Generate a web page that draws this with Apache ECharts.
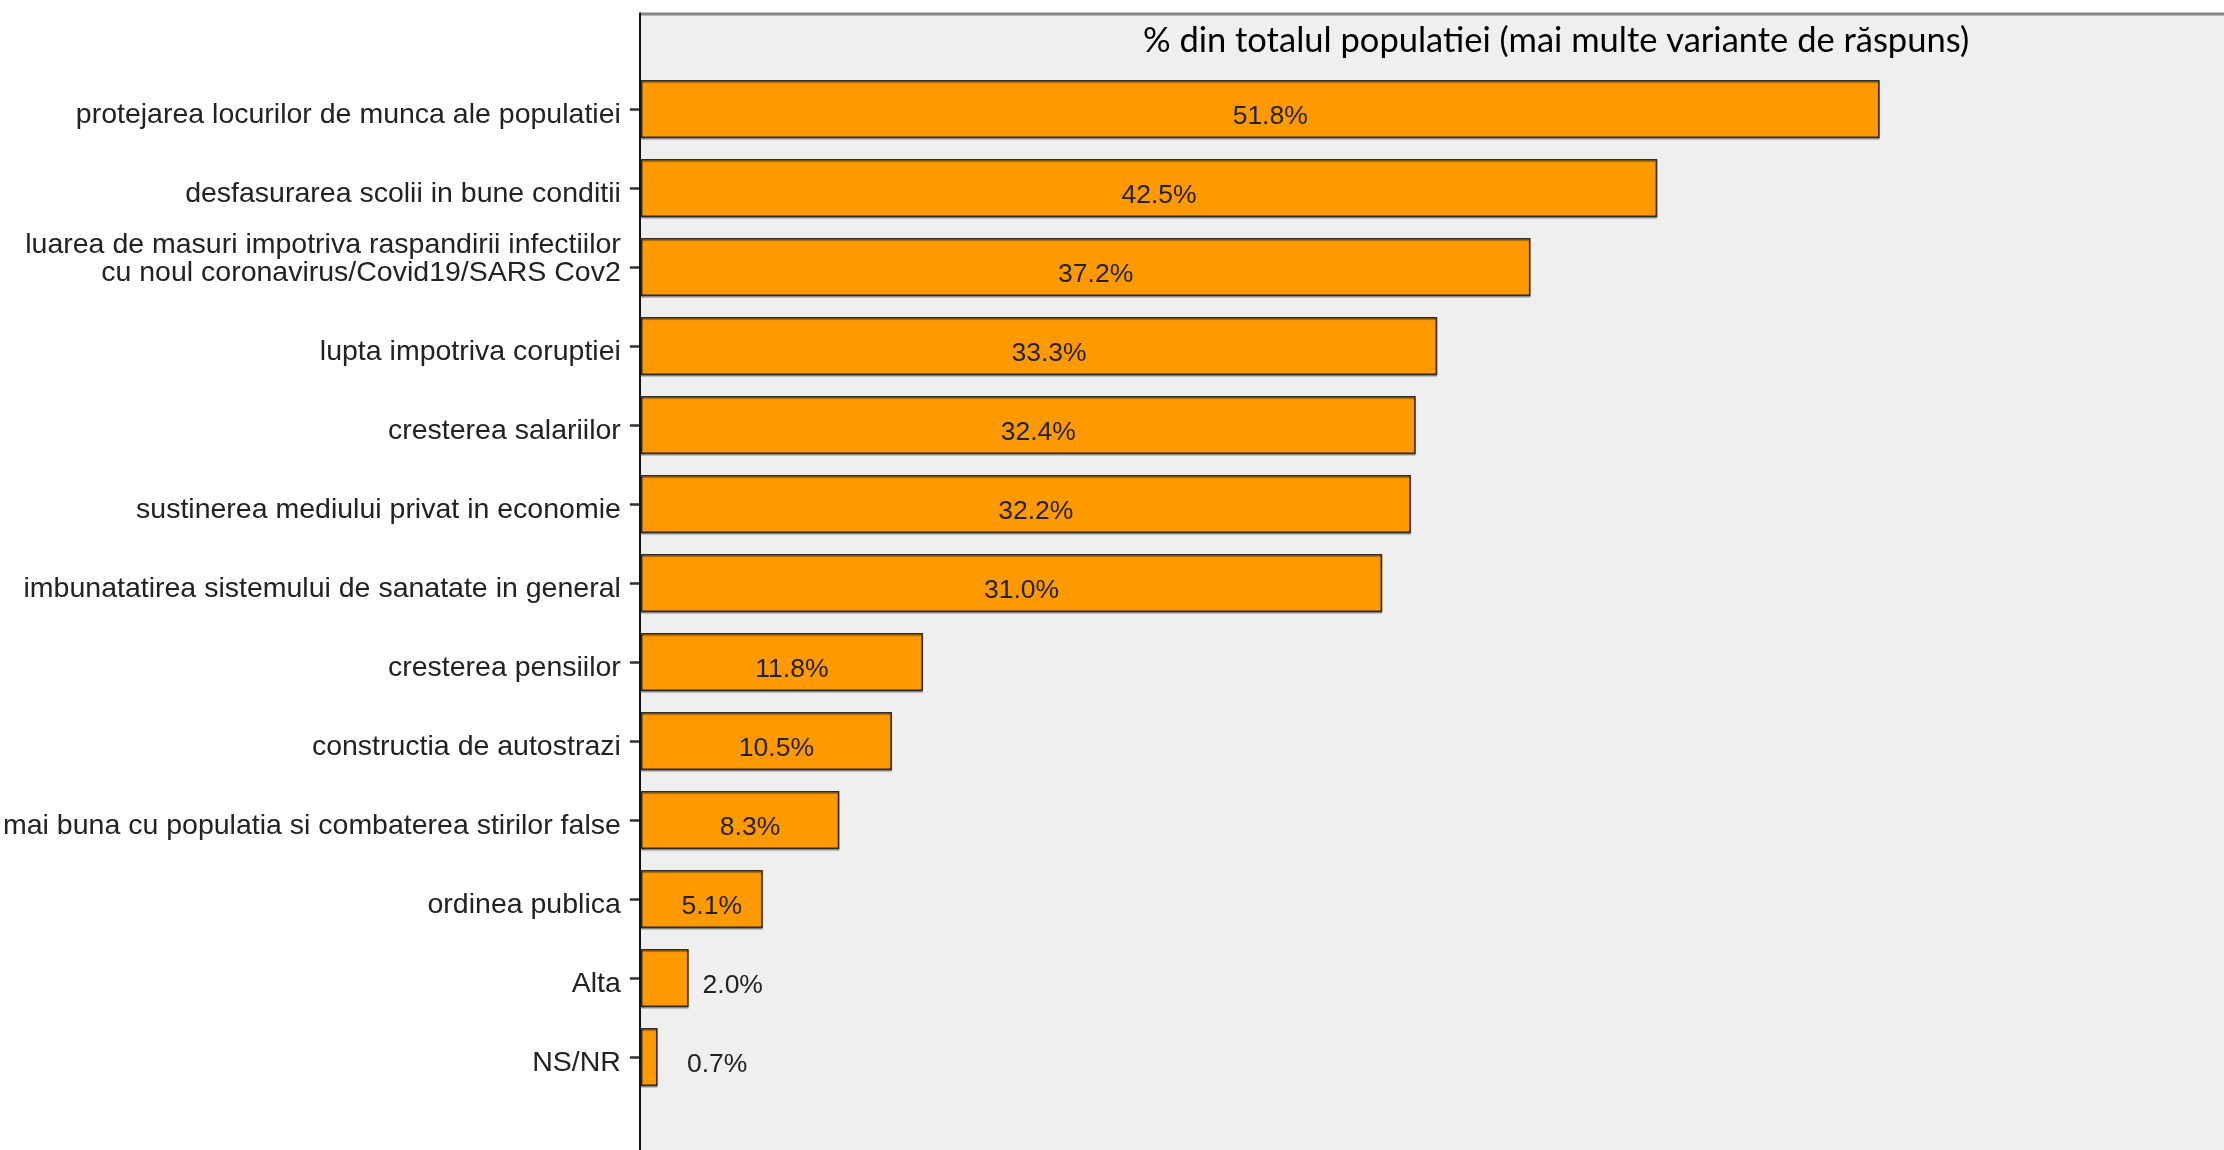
<!DOCTYPE html>
<html>
<head>
<meta charset="utf-8">
<script src="https://cdn.jsdelivr.net/npm/echarts@6/dist/echarts.min.js"></script>
<style>html,body{margin:0;padding:0;background:#fff;}#c{width:2224px;height:1150px;}</style>
</head>
<body>
<div id="c"></div>
<script>
const titleText = '% din totalul populatiei (mai multe variante de răspuns)';
const categories = [
  'protejarea locurilor de munca ale populatiei',
  'desfasurarea scolii in bune conditii',
  'luarea de masuri impotriva raspandirii infectiilor\ncu noul coronavirus/Covid19/SARS Cov2',
  'lupta impotriva coruptiei',
  'cresterea salariilor',
  'sustinerea mediului privat in economie',
  'imbunatatirea sistemului de sanatate in general',
  'cresterea pensiilor',
  'constructia de autostrazi',
  'mai buna cu populatia si combaterea stirilor false',
  'ordinea publica',
  'Alta',
  'NS/NR'
];
const values = [51.8, 42.5, 37.2, 33.3, 32.4, 32.2, 31.0, 11.8, 10.5, 8.3, 5.1, 2.0, 0.7];

const chart = echarts.init(document.getElementById('c'), null, {renderer: 'canvas'});
const PL = 640, PT = 14, W = 2224, H = 1150;

const barData = values.map(v => ({
  value: v,
  label: {offset: v < 3 ? [68, 8] : [10, 8]}
}));

const catFont = {fontFamily: 'Liberation Sans', fontSize: 28.5, color: '#222', lineHeight: 28};

chart.setOption({
  animation: false,
  backgroundColor: '#ffffff',
  grid: {left: PL, right: 0, top: 69.5, bottom: 53.5, containLabel: false},
  graphic: [
    {type: 'rect', z: -10, silent: true, shape: {x: PL, y: PT, width: W - PL, height: H - PT}, style: {fill: '#efefef'}},
    {type: 'line', z: 100, silent: true, shape: {x1: PL, y1: PT, x2: W, y2: PT}, style: {stroke: '#858585', lineWidth: 3}},
    {type: 'line', z: 100, silent: true, shape: {x1: PL, y1: PT - 1.5, x2: PL, y2: H}, style: {stroke: '#111', lineWidth: 2}},
    {type: 'text', z: 100, silent: true, style: {x: 1556, y: 41, text: titleText, textAlign: 'center', textVerticalAlign: 'middle', fontFamily: 'Lato', fontSize: 34.5, fill: '#000'}}
  ],
  xAxis: {
    type: 'value', min: 0, max: 66.2,
    show: false, splitLine: {show: false}
  },
  yAxis: {
    type: 'category', inverse: true, data: categories,
    axisLine: {show: false},
    axisTick: {show: true, alignWithLabel: true, length: 11, lineStyle: {color: '#333', width: 2.5}},
    axisLabel: Object.assign({
      margin: 20,
      formatter: v => {
        const parts = v.split('\n');
        if (parts.length === 1) return '{s|' + v + '}';
        return parts.map(s => '{a|' + s + '}').join('\n') + '\n{e| }';
      },
      rich: {
        s: Object.assign({}, catFont, {padding: [13, 0, 0, 0]}),
        a: Object.assign({}, catFont),
        e: {fontSize: 8, lineHeight: 16, fontFamily: 'Liberation Sans'}
      }
    }, catFont),
    splitLine: {show: false}
  },
  series: [{
    type: 'bar',
    data: barData,
    barWidth: 58,
    itemStyle: {color: '#ff9900', borderColor: '#2b2b2b', borderWidth: 1.5, shadowColor: 'rgba(0,0,0,0.35)', shadowOffsetY: 1.5, shadowBlur: 1},
    label: {
      show: true, position: 'inside',
      formatter: p => p.value.toFixed(1) + '%',
      fontFamily: 'Liberation Sans', fontSize: 26.5, color: '#222'
    }
  }]
});
</script>
</body>
</html>
